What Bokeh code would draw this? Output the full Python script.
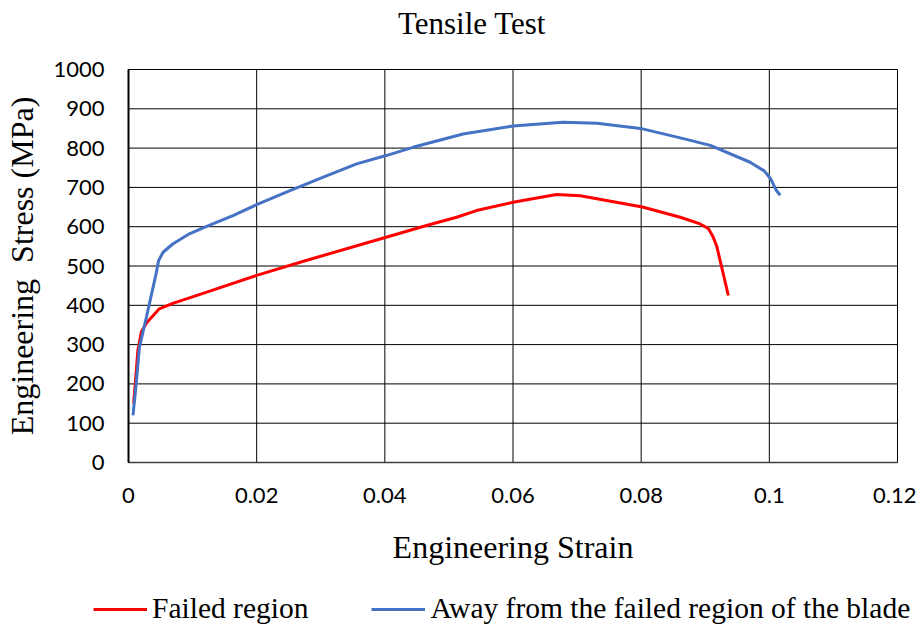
from bokeh.plotting import figure
from bokeh.models import Legend, LegendItem, FixedTicker, Range1d, Label
from bokeh.embed import file_html
from bokeh.resources import INLINE

# Data
failed_strain = [0.0008, 0.0012, 0.00146, 0.002, 0.0028, 0.0048, 0.0069, 0.0121, 0.02,
                 0.0277, 0.0402, 0.0465, 0.0512, 0.0543, 0.06, 0.0668, 0.0705, 0.0802,
                 0.0861, 0.0892, 0.0905, 0.0912, 0.0918, 0.0936]
failed_stress = [150, 230, 285, 332, 355, 391, 405, 433, 476,
                 514, 573, 603, 624, 641, 662, 682, 679, 650,
                 624, 607, 595, 575, 550, 425]

away_strain = [0.0007, 0.0012, 0.0017, 0.0028, 0.0043, 0.0047, 0.0054, 0.0069, 0.0095,
               0.0121, 0.0163, 0.02, 0.0252, 0.0304, 0.0356, 0.0402, 0.0444, 0.0522,
               0.06, 0.0678, 0.0731, 0.0802, 0.0861, 0.0908, 0.097, 0.0992, 0.1002,
               0.1011, 0.1017]
away_stress = [120, 200, 293, 370, 480, 514, 535, 556, 582,
               600, 628, 656, 692, 726, 760, 781, 802, 836,
               856, 866, 863, 849, 826, 807, 764, 742, 722,
               692, 680]

x_ticks = [0, 0.02, 0.04, 0.06, 0.08, 0.1, 0.12]
x_tick_labels = ["0", "0.02", "0.04", "0.06", "0.08", "0.1", "0.12"]
y_ticks = [0, 100, 200, 300, 400, 500, 600, 700, 800, 900, 1000]
y_tick_labels = ["0", "100", "200", "300", "400", "500", "600", "700", "800", "900", "1000"]

series_names = ["Failed region", "Away from the failed region of the blade"]
series_colors = ["#FF0000", "#4472C4"]
chart_title = "Tensile Test"

SERIF = "Liberation Serif"
SANS = "Lato"

# layout (pixels): the frame covers the whole canvas, the plotting area sits inside it
W, H = 916, 625
AREA_L, AREA_R, AREA_T, AREA_B = 128, 897, 69, 462
x0, x1 = x_ticks[0], x_ticks[-1]
y0, y1 = y_ticks[0], y_ticks[-1]
sx = (AREA_R - AREA_L) / (x1 - x0)
sy = (AREA_B - AREA_T) / (y1 - y0)
x_range = Range1d(x0 - AREA_L / sx, x1 + (W - AREA_R) / sx)
y_range = Range1d(y0 - (H - AREA_B) / sy, y1 + AREA_T / sy)

p = figure(frame_width=W, frame_height=H, output_backend="svg", toolbar_location=None,
           x_range=x_range, y_range=y_range,
           min_border_left=0, min_border_right=0, min_border_top=0, min_border_bottom=0,
           title=None)
p.outline_line_color = None
p.xgrid.visible = False
p.ygrid.visible = False

# grid lines of the plotting area
p.segment(x0=[x0] * len(y_ticks), y0=y_ticks, x1=[x1] * len(y_ticks), y1=y_ticks,
          line_color="black", line_width=1)
p.segment(x0=x_ticks, y0=[y0] * len(x_ticks), x1=x_ticks, y1=[y1] * len(x_ticks),
          line_color="black", line_width=1)

r1 = p.line(failed_strain, failed_stress, line_color=series_colors[0], line_width=3)
r2 = p.line(away_strain, away_stress, line_color=series_colors[1], line_width=3)

xax = p.below[0]
yax = p.left[0]
xax.fixed_location = y0
yax.fixed_location = x0
xax.bounds = (x0, x1)
yax.bounds = (y0, y1)

xax.ticker = FixedTicker(ticks=x_ticks)
yax.ticker = FixedTicker(ticks=y_ticks)
xax.major_label_overrides = {t: l for t, l in zip(x_ticks, x_tick_labels)}
yax.major_label_overrides = {t: l for t, l in zip(y_ticks, y_tick_labels)}

for ax in (xax, yax):
    ax.major_tick_out = 0
    ax.major_tick_in = 0
    ax.minor_tick_out = 0
    ax.minor_tick_in = 0
    ax.major_label_text_font = SANS
    ax.major_label_text_font_size = "22px"
    ax.major_label_text_color = "black"
    ax.axis_label_text_font = SERIF
    ax.axis_label_text_font_size = "32px"
    ax.axis_label_text_font_style = "normal"
    ax.axis_label_text_color = "black"

xax.axis_label = "Engineering Strain"
yax.axis_label = "Engineering\u00a0 Stress (MPa)"
xax.major_label_standoff = 25
yax.major_label_standoff = 24
xax.axis_label_standoff = 23
yax.axis_label_standoff = 10
yax.axis_line_color = "black"
yax.axis_line_width = 2
xax.axis_line_color = "#404040"
xax.axis_line_width = 1.5

title = Label(x=471.5, y=H - 23, x_units="screen", y_units="screen", text=chart_title,
              text_font=SERIF, text_font_size="31px", text_color="black",
              text_align="center", text_baseline="alphabetic")
p.add_layout(title)

legend = Legend(items=[LegendItem(label=series_names[0], renderers=[r1]),
                       LegendItem(label=series_names[1], renderers=[r2])],
                orientation="horizontal", location=(93, 0),
                glyph_width=54, label_standoff=5, spacing=63,
                padding=0, margin=0,
                border_line_alpha=0, background_fill_alpha=0,
                label_text_font=SERIF, label_text_font_size="29.5px",
                label_text_color="black")
p.add_layout(legend, "center")

open("out.html", "w").write(file_html(p, INLINE))
